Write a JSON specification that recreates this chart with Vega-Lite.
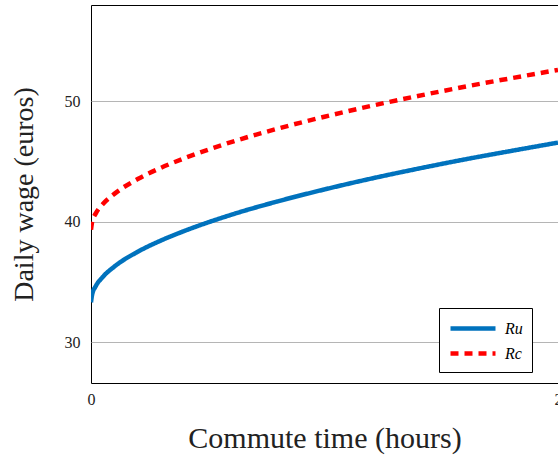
{
  "$schema": "https://vega.github.io/schema/vega-lite/v6.json",
  "width": 467,
  "height": 378,
  "autosize": {"type": "none"},
  "padding": {"left": 91, "top": 5, "right": 0, "bottom": 73},
  "config": {
    "font": "Liberation Serif",
    "view": {"stroke": "#000", "strokeWidth": 1},
    "axis": {"domainColor": "#000", "labelColor": "#222", "titleColor": "#222", "titleFontWeight": "normal"}
  },
  "data": {
    "values": [
      {"t": 0, "w": 33.30, "s": "Ru"},
      {"t": 0.005, "w": 33.96, "s": "Ru"},
      {"t": 0.02, "w": 34.63, "s": "Ru"},
      {"t": 0.05, "w": 35.40, "s": "Ru"},
      {"t": 0.1, "w": 36.27, "s": "Ru"},
      {"t": 0.2, "w": 37.50, "s": "Ru"},
      {"t": 0.3, "w": 38.44, "s": "Ru"},
      {"t": 0.4, "w": 39.23, "s": "Ru"},
      {"t": 0.6, "w": 40.57, "s": "Ru"},
      {"t": 0.8, "w": 41.69, "s": "Ru"},
      {"t": 1.0, "w": 42.68, "s": "Ru"},
      {"t": 1.2, "w": 43.58, "s": "Ru"},
      {"t": 1.4, "w": 44.40, "s": "Ru"},
      {"t": 1.6, "w": 45.17, "s": "Ru"},
      {"t": 1.8, "w": 45.88, "s": "Ru"},
      {"t": 2.0, "w": 46.57, "s": "Ru"},
      {"t": 0, "w": 39.34, "s": "Rc"},
      {"t": 0.005, "w": 40.00, "s": "Rc"},
      {"t": 0.02, "w": 40.67, "s": "Rc"},
      {"t": 0.05, "w": 41.44, "s": "Rc"},
      {"t": 0.1, "w": 42.31, "s": "Rc"},
      {"t": 0.2, "w": 43.54, "s": "Rc"},
      {"t": 0.3, "w": 44.48, "s": "Rc"},
      {"t": 0.4, "w": 45.27, "s": "Rc"},
      {"t": 0.6, "w": 46.61, "s": "Rc"},
      {"t": 0.8, "w": 47.73, "s": "Rc"},
      {"t": 1.0, "w": 48.72, "s": "Rc"},
      {"t": 1.2, "w": 49.62, "s": "Rc"},
      {"t": 1.4, "w": 50.44, "s": "Rc"},
      {"t": 1.6, "w": 51.21, "s": "Rc"},
      {"t": 1.8, "w": 51.92, "s": "Rc"},
      {"t": 2.0, "w": 52.61, "s": "Rc"}
    ]
  },
  "mark": {"type": "line", "strokeWidth": 4.5, "interpolate": "monotone", "clip": true},
  "encoding": {
    "x": {
      "field": "t", "type": "quantitative",
      "scale": {"domain": [0, 2], "nice": false},
      "axis": {"title": "Commute time (hours)", "values": [0, 2], "grid": false, "ticks": false,
        "labelFontSize": 16, "labelPadding": 8, "labelFlush": false, "labelBound": false,
        "titleFontSize": 30, "titlePadding": 16, "domain": false}
    },
    "y": {
      "field": "w", "type": "quantitative",
      "scale": {"domain": [26.6, 58], "nice": false, "zero": false},
      "axis": {"title": "Daily wage (euros)", "values": [30, 40, 50], "grid": true, "gridColor": "#b5b5b5",
        "ticks": false, "labelFontSize": 16, "labelPadding": 11,
        "titleFontSize": 28, "titlePadding": 26, "domain": false}
    },
    "color": {
      "field": "s", "type": "nominal",
      "scale": {"domain": ["Ru", "Rc"], "range": ["#0072BD", "#FF0000"]},
      "legend": {
        "title": null, "orient": "none", "legendX": 348, "legendY": 303,
        "symbolType": "M-1,0L4,0", "symbolSize": 324, "symbolStrokeWidth": 4.5,
        "labelFontSize": 16, "labelFontStyle": "italic", "labelColor": "#000",
        "strokeColor": "#000", "fillColor": "#fff", "padding": 9, "cornerRadius": 0,
        "rowPadding": 4, "labelOffset": 34
      }
    },
    "strokeDash": {
      "field": "s", "type": "nominal",
      "scale": {"domain": ["Ru", "Rc"], "range": [[1, 0], [8, 6]]},
      "legend": null
    }
  }
}
